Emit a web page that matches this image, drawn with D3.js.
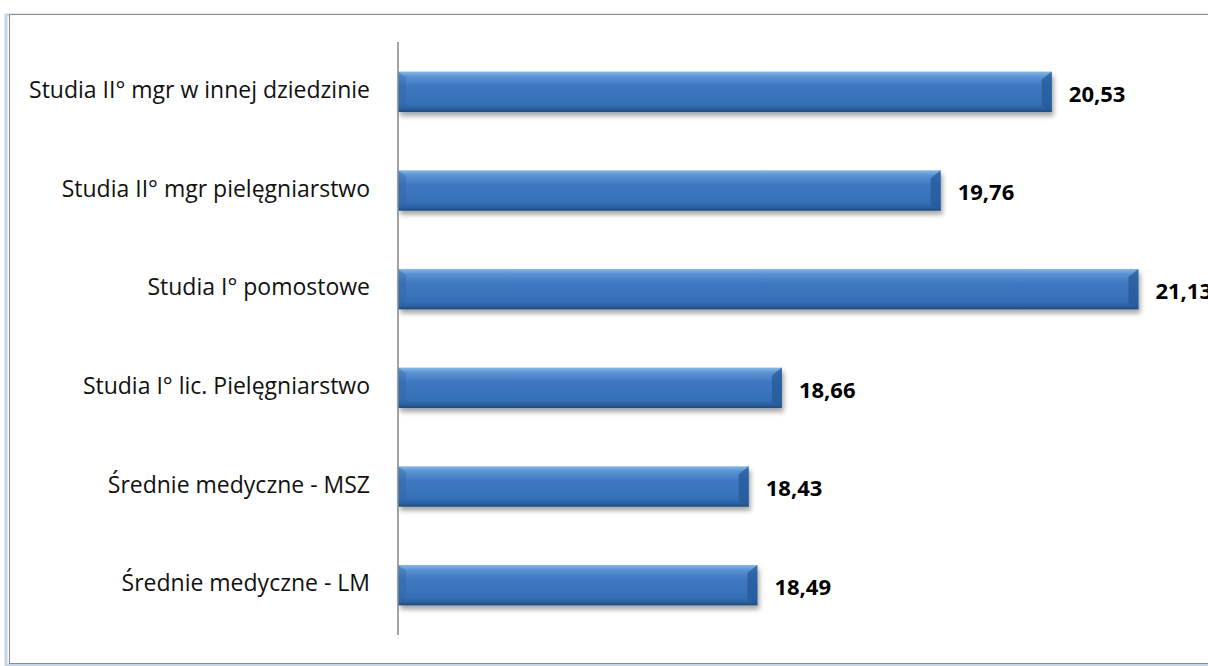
<!DOCTYPE html>
<html>
<head>
<meta charset="utf-8">
<script src="https://cdn.jsdelivr.net/npm/d3@7"></script>
<style>
  body { margin: 0; background: #fff; }
  svg { display: block; }
</style>
</head>
<body>
<svg id="chart" width="1208" height="666"></svg>
<script>
// categories top to bottom
const categories = [
  "Studia II° mgr w innej dziedzinie",
  "Studia II° mgr pielęgniarstwo",
  "Studia I° pomostowe",
  "Studia I° lic. Pielęgniarstwo",
  "Średnie medyczne - MSZ",
  "Średnie medyczne - LM"
];
const values = [20.53, 19.76, 21.13, 18.66, 18.43, 18.49];
const valueLabels = ["20,53", "19,76", "21,13", "18,66", "18,43", "18,49"];

const data = categories.map((c, i) => ({ cat: c, value: values[i], label: valueLabels[i] }));

const svg = d3.select("#chart");
const defs = svg.append("defs");

// bar gradient (glossy look)
const grad = defs.append("linearGradient")
  .attr("id", "barGrad").attr("x1", 0).attr("y1", 0).attr("x2", 0).attr("y2", 1);
grad.append("stop").attr("offset", "0%").attr("stop-color", "#8ab8e6");
grad.append("stop").attr("offset", "12%").attr("stop-color", "#5b93d3");
grad.append("stop").attr("offset", "35%").attr("stop-color", "#3f78c2");
grad.append("stop").attr("offset", "80%").attr("stop-color", "#3570b8");
grad.append("stop").attr("offset", "92%").attr("stop-color", "#2c609e");
grad.append("stop").attr("offset", "100%").attr("stop-color", "#1f4a7e");

const shadow = defs.append("filter").attr("id", "shadow")
  .attr("x", "-5%").attr("y", "-30%").attr("width", "110%").attr("height", "180%");
shadow.append("feGaussianBlur").attr("in", "SourceAlpha").attr("stdDeviation", 2.5);
shadow.append("feOffset").attr("dx", 2).attr("dy", 4).attr("result", "off");
shadow.append("feComponentTransfer").append("feFuncA").attr("type", "linear").attr("slope", 0.35);
const merge = shadow.append("feMerge");
merge.append("feMergeNode");
merge.append("feMergeNode").attr("in", "SourceGraphic");

// outer frame
svg.append("rect")
  .attr("x", 6).attr("y", 15).attr("width", 1220).attr("height", 650)
  .attr("fill", "none").attr("stroke", "#c5d6ea").attr("stroke-width", 3);
svg.append("rect")
  .attr("x", 9.5).attr("y", 14.5).attr("width", 1220).attr("height", 649)
  .attr("fill", "#fff").attr("stroke", "#8c8c8c").attr("stroke-width", 1);

const x = d3.scaleLinear().domain([16, 22]).range([398, 398 + 866]);
const y = d3.scaleBand().domain(categories).range([42, 635]).paddingInner(0.59).paddingOuter(0.3);

const g = svg.append("g");

// bars
const bars = g.selectAll("g.bar").data(data).join("g").attr("class", "bar");
bars.append("rect")
  .attr("x", x(16))
  .attr("y", d => y(d.cat))
  .attr("width", d => x(d.value) - x(16))
  .attr("height", y.bandwidth())
  .attr("fill", "url(#barGrad)")
  .attr("filter", "url(#shadow)");
// bevel: lighter top-right corner, darker right edge
bars.append("path")
  .attr("d", d => {
    const x0 = x(16), y0 = y(d.cat), h = y.bandwidth();
    return `M${x0},${y0} L${x0 + 8},${y0 + 6} L${x0 + 8},${y0 + h - 6} L${x0},${y0 + h} Z`;
  })
  .attr("fill", "#2f64a8").attr("opacity", 0.4);
bars.append("path")
  .attr("d", d => {
    const x1 = x(d.value), y0 = y(d.cat), h = y.bandwidth();
    return `M${x1},${y0} L${x1 - 10},${y0 + 8} L${x1 - 10},${y0 + h - 6} L${x1},${y0 + h} Z`;
  })
  .attr("fill", "#255a99").attr("opacity", 0.75);

// axis line
g.append("line")
  .attr("x1", x(16)).attr("x2", x(16))
  .attr("y1", 42).attr("y2", 635)
  .attr("stroke", "#868686").attr("stroke-width", 1.5);

// category labels
g.selectAll("text.cat").data(data).join("text")
  .attr("class", "cat")
  .attr("x", 370)
  .attr("y", d => y(d.cat) + y.bandwidth() / 2 - 2)
  .attr("dy", "0.35em")
  .attr("text-anchor", "end")
  .attr("font-family", "'Open Sans', sans-serif")
  .attr("font-size", 23)
  .attr("fill", "#111")
  .text(d => d.cat);

// value labels
g.selectAll("text.val").data(data).join("text")
  .attr("class", "val")
  .attr("x", d => x(d.value) + 17)
  .attr("y", d => y(d.cat) + y.bandwidth() / 2 + 2)
  .attr("dy", "0.35em")
  .attr("font-family", "'Open Sans', sans-serif")
  .attr("font-weight", "bold")
  .attr("font-size", 22)
  .attr("fill", "#000")
  .text(d => d.label);
</script>
</body>
</html>
